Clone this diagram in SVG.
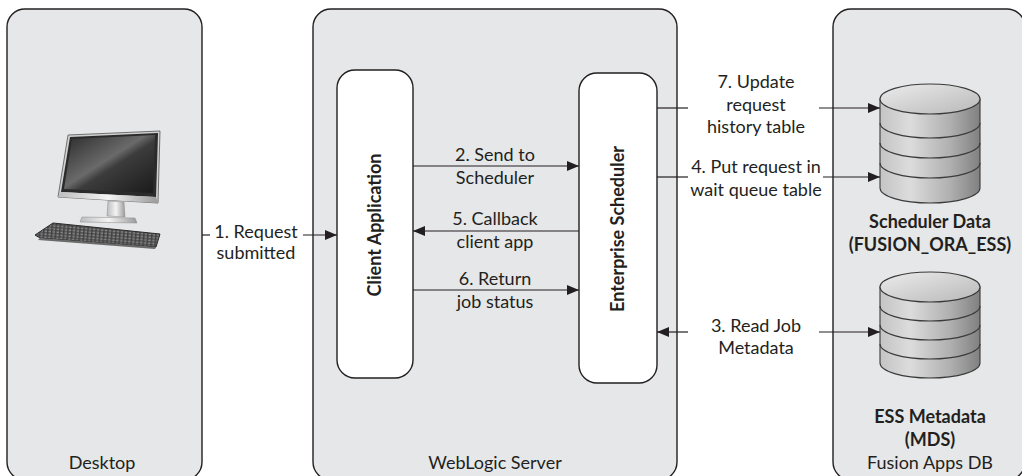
<svg xmlns="http://www.w3.org/2000/svg" width="1022" height="476" viewBox="0 0 1022 476">
  <style>
    .zone { fill: #e6e7e8; stroke: #231f20; stroke-width: 1.4; }
    .box { fill: #ffffff; stroke: #231f20; stroke-width: 1.4; }
    .wire { fill: none; stroke: #231f20; stroke-width: 1.2; }
    .lbl { font-family: Lato, "Liberation Sans", sans-serif; font-size: 18px; fill: #231f20; text-anchor: middle; }
    .bold { font-weight: bold; }
    .band { fill: none; stroke: #3a3a3a; stroke-width: 1.1; }
  </style>
  <defs>
    <marker id="arrow" viewBox="0 0 12 10" refX="12" refY="5" markerWidth="12" markerHeight="10" markerUnits="userSpaceOnUse" orient="auto-start-reverse">
      <path d="M0,0 L12,5 L0,10 Z" fill="#231f20"/>
    </marker>
    <linearGradient id="cylBody" x1="0" y1="0" x2="1" y2="0">
      <stop offset="0" stop-color="#c4c4c4"/>
      <stop offset="0.3" stop-color="#dcdcdc"/>
      <stop offset="0.7" stop-color="#b0b0b0"/>
      <stop offset="1" stop-color="#808080"/>
    </linearGradient>
    <linearGradient id="cylTop" x1="0" y1="0" x2="1" y2="1">
      <stop offset="0" stop-color="#ececec"/>
      <stop offset="1" stop-color="#b8b8b8"/>
    </linearGradient>
    <linearGradient id="screen" x1="0" y1="0" x2="1" y2="1">
      <stop offset="0" stop-color="#2a2a2a"/>
      <stop offset="0.45" stop-color="#6a6a6a"/>
      <stop offset="0.55" stop-color="#3c3c3c"/>
      <stop offset="1" stop-color="#1a1a1a"/>
    </linearGradient>
    <linearGradient id="silver" x1="0" y1="0" x2="1" y2="0">
      <stop offset="0" stop-color="#bdbdbd"/>
      <stop offset="0.5" stop-color="#f4f4f4"/>
      <stop offset="1" stop-color="#9a9a9a"/>
    </linearGradient>
    <pattern id="keys" width="4" height="3" patternUnits="userSpaceOnUse" patternTransform="rotate(5)">
      <rect width="4" height="3" fill="#3d3d3d"/>
      <rect x="0.5" y="0.5" width="2.6" height="1.8" fill="#8a8a8a"/>
    </pattern>
  </defs>

  <!-- hosts -->
  <g id="desktop">
    <rect class="zone" x="7" y="9" width="195" height="471" rx="18"/>
    <text class="lbl" x="102" y="469">Desktop</text>
    <!-- workstation -->
    <polygon points="68,135 160,131 158,203 58,197" fill="#d0d0d0" stroke="#555" stroke-width="0.8"/>
    <polygon points="70,137 158,133 156,197 61,192" fill="#2b2b2b"/>
    <polygon points="72,139 155,135 153,193 64,189" fill="url(#screen)"/>
    <polygon points="61,192 156,197 158,203 58,197" fill="url(#silver)"/>
    <polygon points="108,201 124,202 125,217 107,216" fill="url(#silver)" stroke="#888" stroke-width="0.5"/>
    <polygon points="82,217 135,218 137,223 80,222" fill="url(#silver)" stroke="#888" stroke-width="0.5"/>
    <polygon points="53,223 160,234 156,247 40,238 35,235" fill="url(#keys)" stroke="#2a2a2a" stroke-width="1"/>
    <polygon points="40,238 156,247 155,249 38,240" fill="#6a6a6a"/>
  </g>

  <g id="weblogic">
    <rect class="zone" x="313" y="9" width="364" height="471" rx="18"/>
    <text class="lbl" x="495" y="469">WebLogic Server</text>
  </g>

  <g id="fusion-db">
    <rect class="zone" x="833" y="9" width="192" height="471" rx="18"/>
    <text class="lbl" x="930" y="469">Fusion Apps DB</text>
  </g>

  <!-- components -->
  <g id="client-app">
    <rect class="box" x="337" y="70" width="76" height="308" rx="18"/>
    <text class="lbl bold" transform="translate(381,225) rotate(-90)">Client Application</text>
  </g>

  <g id="scheduler">
    <rect class="box" x="579" y="73" width="78" height="310" rx="18"/>
    <text class="lbl bold" transform="translate(624,229) rotate(-90)">Enterprise Scheduler</text>
  </g>

  <g id="scheduler-data">
    <path d="M880,99 L880,188 A50,15 0 0 0 980,188 L980,99 Z" fill="url(#cylBody)" stroke="#3a3a3a" stroke-width="1.1"/>
    <ellipse cx="930" cy="99" rx="50" ry="15" fill="url(#cylTop)" stroke="#3a3a3a" stroke-width="1.1"/>
    <path class="band" d="M880,123 A50,15 0 0 0 980,123"/>
    <path class="band" d="M880,143 A50,15 0 0 0 980,143"/>
    <path class="band" d="M880,163 A50,15 0 0 0 980,163"/>
    <text class="lbl bold" x="930" y="228">Scheduler Data</text>
    <text class="lbl bold" x="930" y="251">(FUSION_ORA_ESS)</text>
  </g>

  <g id="ess-metadata">
    <path d="M880,287 L880,363 A50,15 0 0 0 980,363 L980,287 Z" fill="url(#cylBody)" stroke="#3a3a3a" stroke-width="1.1"/>
    <ellipse cx="930" cy="287" rx="50" ry="15" fill="url(#cylTop)" stroke="#3a3a3a" stroke-width="1.1"/>
    <path class="band" d="M880,306 A50,15 0 0 0 980,306"/>
    <path class="band" d="M880,325 A50,15 0 0 0 980,325"/>
    <path class="band" d="M880,344 A50,15 0 0 0 980,344"/>
    <text class="lbl bold" x="930" y="423">ESS Metadata</text>
    <text class="lbl bold" x="930" y="446">(MDS)</text>
  </g>

  <!-- connectors -->
  <g id="connectors">
    <!-- 1 -->
    <line class="wire" x1="202" y1="235" x2="210" y2="235"/>
    <line class="wire" x1="303" y1="235" x2="337" y2="235" marker-end="url(#arrow)"/>
    <text class="lbl" x="256" y="238">1. Request</text>
    <text class="lbl" x="256" y="259">submitted</text>
    <!-- 2 -->
    <line class="wire" x1="413" y1="166" x2="579" y2="166" marker-end="url(#arrow)"/>
    <text class="lbl" x="495" y="161">2. Send to</text>
    <text class="lbl" x="495" y="184">Scheduler</text>
    <!-- 5 -->
    <line class="wire" x1="579" y1="231" x2="413" y2="231" marker-end="url(#arrow)"/>
    <text class="lbl" x="495" y="225">5. Callback</text>
    <text class="lbl" x="495" y="248">client app</text>
    <!-- 6 -->
    <line class="wire" x1="413" y1="290" x2="579" y2="290" marker-end="url(#arrow)"/>
    <text class="lbl" x="495" y="285">6. Return</text>
    <text class="lbl" x="495" y="308">job status</text>
    <!-- 7 -->
    <line class="wire" x1="657" y1="108" x2="688" y2="108"/>
    <line class="wire" x1="819" y1="108" x2="880" y2="108" marker-end="url(#arrow)"/>
    <text class="lbl" x="756" y="88">7. Update</text>
    <text class="lbl" x="756" y="111">request</text>
    <text class="lbl" x="756" y="133">history table</text>
    <!-- 4 -->
    <line class="wire" x1="657" y1="177" x2="688" y2="177"/>
    <line class="wire" x1="823" y1="177" x2="880" y2="177" marker-end="url(#arrow)"/>
    <text class="lbl" x="756" y="173">4. Put request in</text>
    <text class="lbl" x="756" y="196">wait queue table</text>
    <!-- 3 -->
    <line class="wire" x1="688" y1="332" x2="657" y2="332" marker-end="url(#arrow)"/>
    <line class="wire" x1="819" y1="332" x2="880" y2="332" marker-end="url(#arrow)"/>
    <text class="lbl" x="756" y="332">3. Read Job</text>
    <text class="lbl" x="756" y="354">Metadata</text>
  </g>
</svg>
